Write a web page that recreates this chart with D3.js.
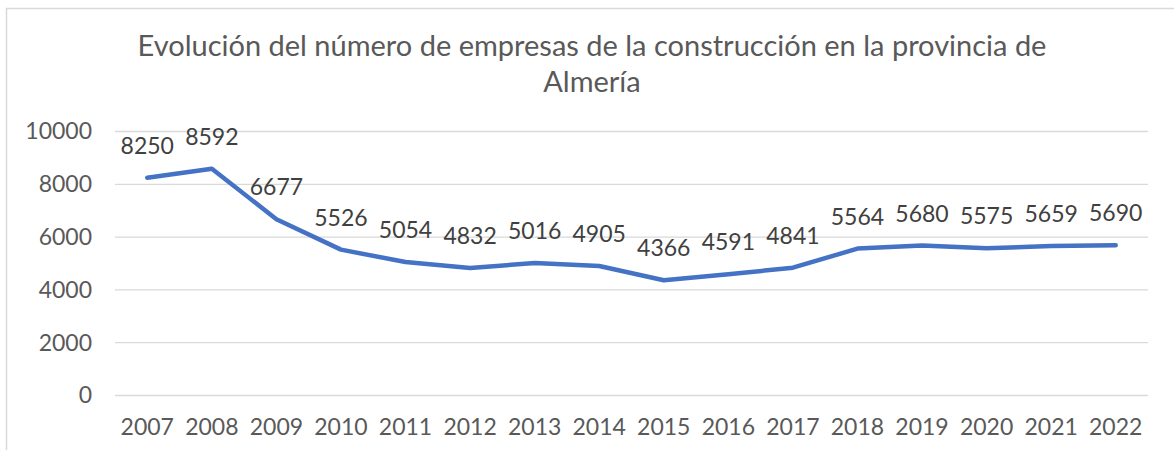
<!DOCTYPE html>
<html>
<head>
<meta charset="utf-8">
<script src="https://cdn.jsdelivr.net/npm/d3@7"></script>
<style>
  body { margin: 0; background: #fff; }
  text { font-family: Lato, "Open Sans", sans-serif; }
</style>
</head>
<body>
<div id="chart"></div>
<script>
const years = ["2007", "2008", "2009", "2010", "2011", "2012", "2013", "2014",
               "2015", "2016", "2017", "2018", "2019", "2020", "2021", "2022"];
const empresas = [8250, 8592, 6677, 5526, 5054, 4832, 5016, 4905,
                  4366, 4591, 4841, 5564, 5680, 5575, 5659, 5690];
const yTicks = [0, 2000, 4000, 6000, 8000, 10000];
const titleLines = ["Evolución del número de empresas de la construcción en la provincia de", "Almería"];

const width = 1174, height = 450;

const svg = d3.select("#chart")
    .append("svg")
    .attr("width", width)
    .attr("height", height);

// chart frame (cut off at right/bottom like the original)
svg.append("rect")
    .attr("x", 6.5).attr("y", 8.5)
    .attr("width", width + 10).attr("height", height + 10)
    .attr("fill", "#fff")
    .attr("stroke", "#d9d9d9")
    .attr("stroke-width", 1.5);

// title
svg.append("g").selectAll("text")
    .data(titleLines)
    .enter()
    .append("text")
    .attr("x", 592)
    .attr("y", (d, i) => 56 + i * 36)
    .attr("text-anchor", "middle")
    .attr("font-size", 29)
    .attr("fill", "#595959")
    .text(d => d);

const x = d3.scaleBand()
    .domain(years)
    .range([115, 1148]);

const y = d3.scaleLinear()
    .domain([0, 10000])
    .range([395.5, 131.5]);

// gridlines
svg.append("g")
    .selectAll("line")
    .data(yTicks)
    .enter()
    .append("line")
    .attr("x1", 115).attr("x2", 1148)
    .attr("y1", d => y(d)).attr("y2", d => y(d))
    .attr("stroke", "#d9d9d9")
    .attr("stroke-width", 1.3);

// y axis labels
const yAxis = svg.append("g")
    .attr("transform", "translate(115,0)")
    .call(d3.axisLeft(y).tickValues(yTicks).tickSize(0).tickPadding(23).tickFormat(d3.format("d")));
yAxis.select(".domain").remove();
yAxis.selectAll("text")
    .attr("font-size", 23)
    .attr("font-family", "Lato, sans-serif")
    .attr("fill", "#595959");

// x axis labels
const xAxis = svg.append("g")
    .attr("transform", "translate(0,395.5)")
    .call(d3.axisBottom(x).tickSize(0).tickPadding(23));
xAxis.select(".domain").remove();
xAxis.selectAll("text")
    .attr("font-size", 23)
    .attr("font-family", "Lato, sans-serif")
    .attr("fill", "#595959");

// line
const line = d3.line()
    .x((d, i) => x(years[i]) + x.bandwidth() / 2)
    .y(d => y(d));

svg.append("path")
    .datum(empresas)
    .attr("d", line)
    .attr("fill", "none")
    .attr("stroke", "#4472c4")
    .attr("stroke-width", 4.5)
    .attr("stroke-linejoin", "round")
    .attr("stroke-linecap", "round");

// data labels
svg.append("g")
    .selectAll("text")
    .data(empresas)
    .enter()
    .append("text")
    .attr("x", (d, i) => x(years[i]) + x.bandwidth() / 2)
    .attr("y", d => y(d) - 24)
    .attr("text-anchor", "middle")
    .attr("font-size", 23)
    .attr("fill", "#404040")
    .text(d => d);
</script>
</body>
</html>
